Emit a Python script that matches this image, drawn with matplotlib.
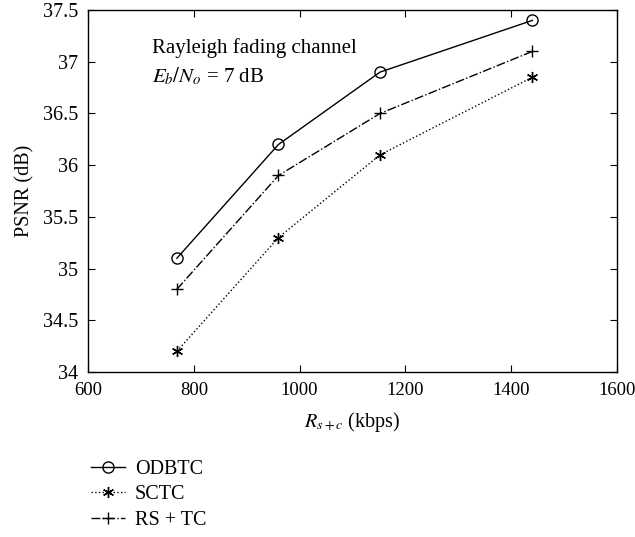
import matplotlib
matplotlib.use("Agg")
import matplotlib.pyplot as plt

rate = [768, 960, 1152, 1440]
odbtc = [35.1, 36.2, 36.9, 37.4]
sctc = [34.2, 35.3, 36.1, 36.85]
rstc = [34.8, 35.9, 36.5, 37.1]

plt.rcParams["font.family"] = "Liberation Serif"
plt.rcParams["mathtext.fontset"] = "stix"

fig = plt.figure(figsize=(6.35, 5.37), dpi=100, facecolor="white")
ax = fig.add_axes([0.1386, 0.3073, 0.8331, 0.674])

ax.plot(rate, odbtc, "k-", marker="o", mfc="none", ms=8, mew=1, lw=1, label="ODBTC")
ax.plot(rate, sctc, "k:", marker=(6, 2, 0), ms=8, mew=1, lw=1, label="SCTC")
ax.plot(rate, rstc, "k-.", marker="+", ms=9, mew=1, lw=1, label="RS + TC")

ax.set_xlim(600, 1600)
ax.set_ylim(34, 37.5)
ax.set_xticks(range(600, 1601, 200))
ax.set_yticks([34, 34.5, 35, 35.5, 36, 36.5, 37, 37.5])
ax.set_yticklabels(["34", "34.5", "35", "35.5", "36", "36.5", "37", "37.5"])
ax.tick_params(direction="in", top=True, right=True, labelsize=14.5, length=5, pad=7)
ax.tick_params(axis="x", labelsize=13.5)
for s in ax.spines.values():
    s.set_linewidth(1)

ax.set_xlabel("$R_{s+c}$ (kbps)", fontsize=14.5, labelpad=8)
ax.set_ylabel("PSNR (dB)", fontsize=14.5, labelpad=6)

ax.text(0.121, 0.88, "Rayleigh fading channel", transform=ax.transAxes, fontsize=15)
ax.text(0.121, 0.80, "$E_b/N_o$ = 7 dB", transform=ax.transAxes, fontsize=15)

fig.legend(loc="upper left", bbox_to_anchor=(0.114, 0.178), frameon=False,
           fontsize=14.5, handlelength=1.7, labelspacing=0.32, handletextpad=0.5)

fig.savefig("out.png", dpi=100, facecolor="white")
